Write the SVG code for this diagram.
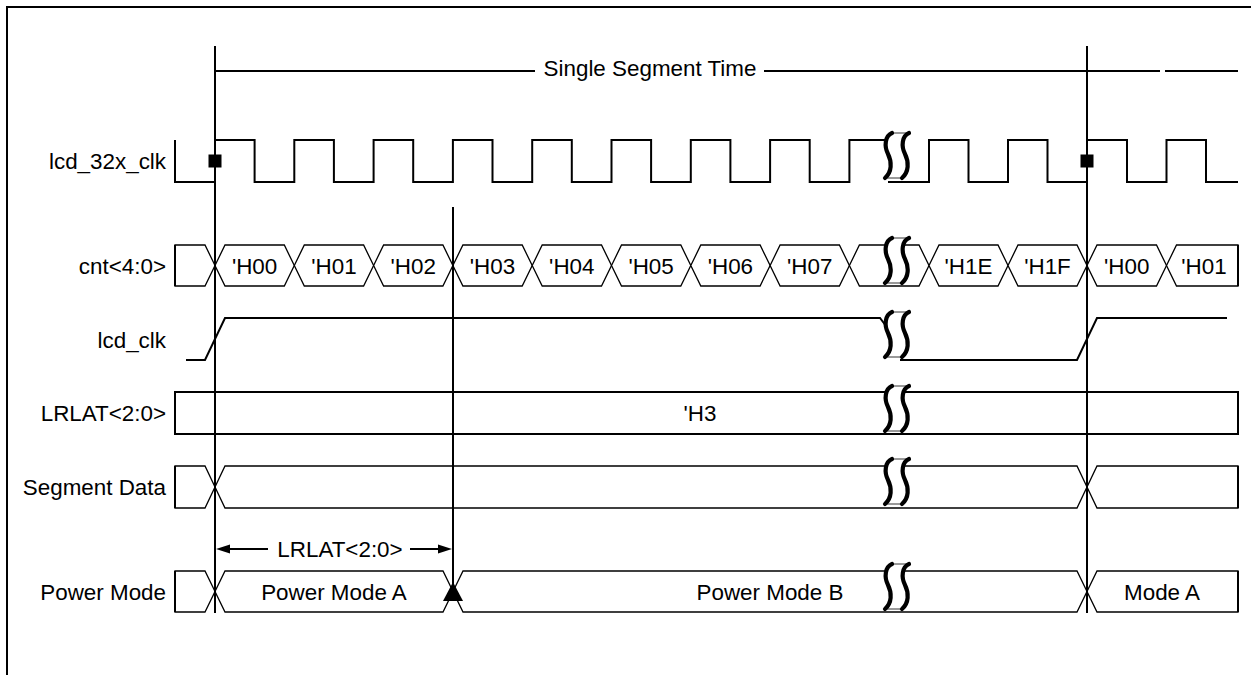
<svg xmlns="http://www.w3.org/2000/svg" width="1251" height="675" viewBox="0 0 1251 675">
<style>
text{font-family:"Liberation Sans",Arial,sans-serif;font-size:22.4px;fill:#000}
.lbl{text-anchor:end}
.mid{text-anchor:middle}
.wave{fill:none;stroke:#000;stroke-width:2}
.hex{fill:#fff;stroke:#000;stroke-width:1.3}
.box{fill:#fff;stroke:#000;stroke-width:2}
.mark{stroke:#000;stroke-width:2;fill:none}
.bfill{fill:#fff;stroke:#000;stroke-width:0.8}
.bs{fill:none;stroke:#000;stroke-width:4.2;stroke-linecap:round}
</style>
<defs>
<g id="brk">
<path class="bfill" d="M9 1 C2 4,1 14,5 22 C9 30,9 40,2 46 L19 46 C26 40,26 30,22 22 C18 14,19 4,26 1 Z"/>
<path class="bs" d="M9 1 C2 4,1 14,5 22 C9 30,9 40,2 46"/>
<path class="bs" d="M26 1 C19 4,18 14,22 22 C26 30,26 40,19 46"/>
</g>
</defs>
<rect x="7" y="7" width="1260" height="690" fill="#fff" stroke="#000" stroke-width="2"/>

<g id="segtime">
<path class="mark" d="M215 71 H535 M764 71 H1160 M1165 71 H1238"/>
<text class="mid" x="650" y="76">Single Segment Time</text>
</g>

<g id="lcd_32x_clk">
<text class="lbl" x="166" y="169">lcd_32x_clk</text>
<path class="wave" d="M175 140 V182 H215 V140 H254.6 V182 H294.3 V140 H333.9 V182 H373.6 V140 H413.2 V182 H452.9 V140 H492.5 V182 H532.2 V140 H571.8 V182 H611.5 V140 H651.1 V182 H690.8 V140 H730.4 V182 H770.1 V140 H809.7 V182 H849.4 V140 H895"/>
<path class="wave" d="M888 182 H929 V140 H968.5 V182 H1008 V140 H1047.5 V182 H1087 V140 H1127 V182 H1166.5 V140 H1206 V182 H1238"/>
<use href="#brk" x="883" y="132"/>
</g>

<g id="cnt">
<text class="lbl" x="166" y="273.5">cnt&lt;4:0&gt;</text>
<path class="hex" d="M175 245 H205 L215 265.5 L205 286 H175 Z"/>
<path class="hex" d="M215 265.5 L225 245 H284.3 L294.3 265.5 L284.3 286 H225 Z"/>
<path class="hex" d="M294.3 265.5 L304.3 245 H363.6 L373.6 265.5 L363.6 286 H304.3 Z"/>
<path class="hex" d="M373.6 265.5 L383.6 245 H442.9 L452.9 265.5 L442.9 286 H383.6 Z"/>
<path class="hex" d="M452.9 265.5 L462.9 245 H522.2 L532.2 265.5 L522.2 286 H462.9 Z"/>
<path class="hex" d="M532.2 265.5 L542.2 245 H601.5 L611.5 265.5 L601.5 286 H542.2 Z"/>
<path class="hex" d="M611.5 265.5 L621.5 245 H680.8 L690.8 265.5 L680.8 286 H621.5 Z"/>
<path class="hex" d="M690.8 265.5 L700.8 245 H760.1 L770.1 265.5 L760.1 286 H700.8 Z"/>
<path class="hex" d="M770.1 265.5 L780.1 245 H839.4 L849.4 265.5 L839.4 286 H780.1 Z"/>
<path class="hex" d="M849.4 265.5 L859.4 245 H919 L929 265.5 L919 286 H859.4 Z"/>
<path class="hex" d="M929 265.5 L939 245 H998 L1008 265.5 L998 286 H939 Z"/>
<path class="hex" d="M1008 265.5 L1018 245 H1077 L1087 265.5 L1077 286 H1018 Z"/>
<path class="hex" d="M1087 265.5 L1097 245 H1156.5 L1166.5 265.5 L1156.5 286 H1097 Z"/>
<path class="hex" d="M1166.5 265.5 L1176.5 245 H1238 V286 H1176.5 Z"/>
<path class="mark" d="M175 245 V286 M1238 245 V286"/>
<text class="mid" x="254.6" y="273.5">'H00</text>
<text class="mid" x="334" y="273.5">'H01</text>
<text class="mid" x="413.2" y="273.5">'H02</text>
<text class="mid" x="492.5" y="273.5">'H03</text>
<text class="mid" x="571.8" y="273.5">'H04</text>
<text class="mid" x="651.1" y="273.5">'H05</text>
<text class="mid" x="730.4" y="273.5">'H06</text>
<text class="mid" x="809.7" y="273.5">'H07</text>
<text class="mid" x="968.5" y="273.5">'H1E</text>
<text class="mid" x="1047.5" y="273.5">'H1F</text>
<text class="mid" x="1126.7" y="273.5">'H00</text>
<text class="mid" x="1204" y="273.5">'H01</text>
<use href="#brk" x="883" y="237"/>
</g>

<g id="lcd_clk">
<text class="lbl" x="166" y="348">lcd_clk</text>
<path class="wave" d="M186 360 H205 L225 318 H880 L886 326"/>
<path class="wave" d="M900 360 H1077 L1097 318 H1227"/>
<use href="#brk" x="883" y="311"/>
</g>

<g id="lrlat">
<text class="lbl" x="166" y="421">LRLAT&lt;2:0&gt;</text>
<rect class="box" x="175" y="392" width="1063" height="42"/>
<text class="mid" x="700" y="421">'H3</text>
<use href="#brk" x="883" y="385"/>
</g>

<g id="segdata">
<text class="lbl" x="166" y="495">Segment Data</text>
<path class="hex" d="M175 466 H205 L215 487 L205 508 H175 Z"/>
<path class="hex" d="M215 487 L225 466 H1077 L1087 487 L1077 508 H225 Z"/>
<path class="hex" d="M1087 487 L1097 466 H1238 V508 H1097 Z"/>
<path class="mark" d="M175 466 V508 M1238 466 V508"/>
<use href="#brk" x="883" y="458"/>
</g>

<g id="powermode">
<text class="lbl" x="166" y="600">Power Mode</text>
<path class="hex" d="M175 571 H205 L215 591.5 L205 612 H175 Z"/>
<path class="hex" d="M215 591.5 L225 571 H443 L453 591.5 L443 612 H225 Z"/>
<path class="hex" d="M453 591.5 L463 571 H1077 L1087 591.5 L1077 612 H463 Z"/>
<path class="hex" d="M1087 591.5 L1097 571 H1238 V612 H1097 Z"/>
<path class="mark" d="M175 571 V612 M1238 571 V612"/>
<text class="mid" x="334" y="600">Power Mode A</text>
<text class="mid" x="770" y="600">Power Mode B</text>
<text class="mid" x="1162" y="600">Mode A</text>
<use href="#brk" x="883" y="563"/>
</g>

<g id="connectors">
<path class="mark" d="M215 46 V613 M453 207 V590 M1087 46 V613"/>
<rect x="208.5" y="154.5" width="13" height="13" fill="#000"/>
<rect x="1080.5" y="154.5" width="13" height="13" fill="#000"/>
<polygon points="453,582 443,601 463,601" fill="#000"/>
<path class="mark" d="M228 549 H268 M410 549 H441"/>
<polygon points="216,549 230,544.5 230,553.5" fill="#000"/>
<polygon points="452,549 438,544.5 438,553.5" fill="#000"/>
<text class="mid" x="340" y="557">LRLAT&lt;2:0&gt;</text>
</g>
</svg>
